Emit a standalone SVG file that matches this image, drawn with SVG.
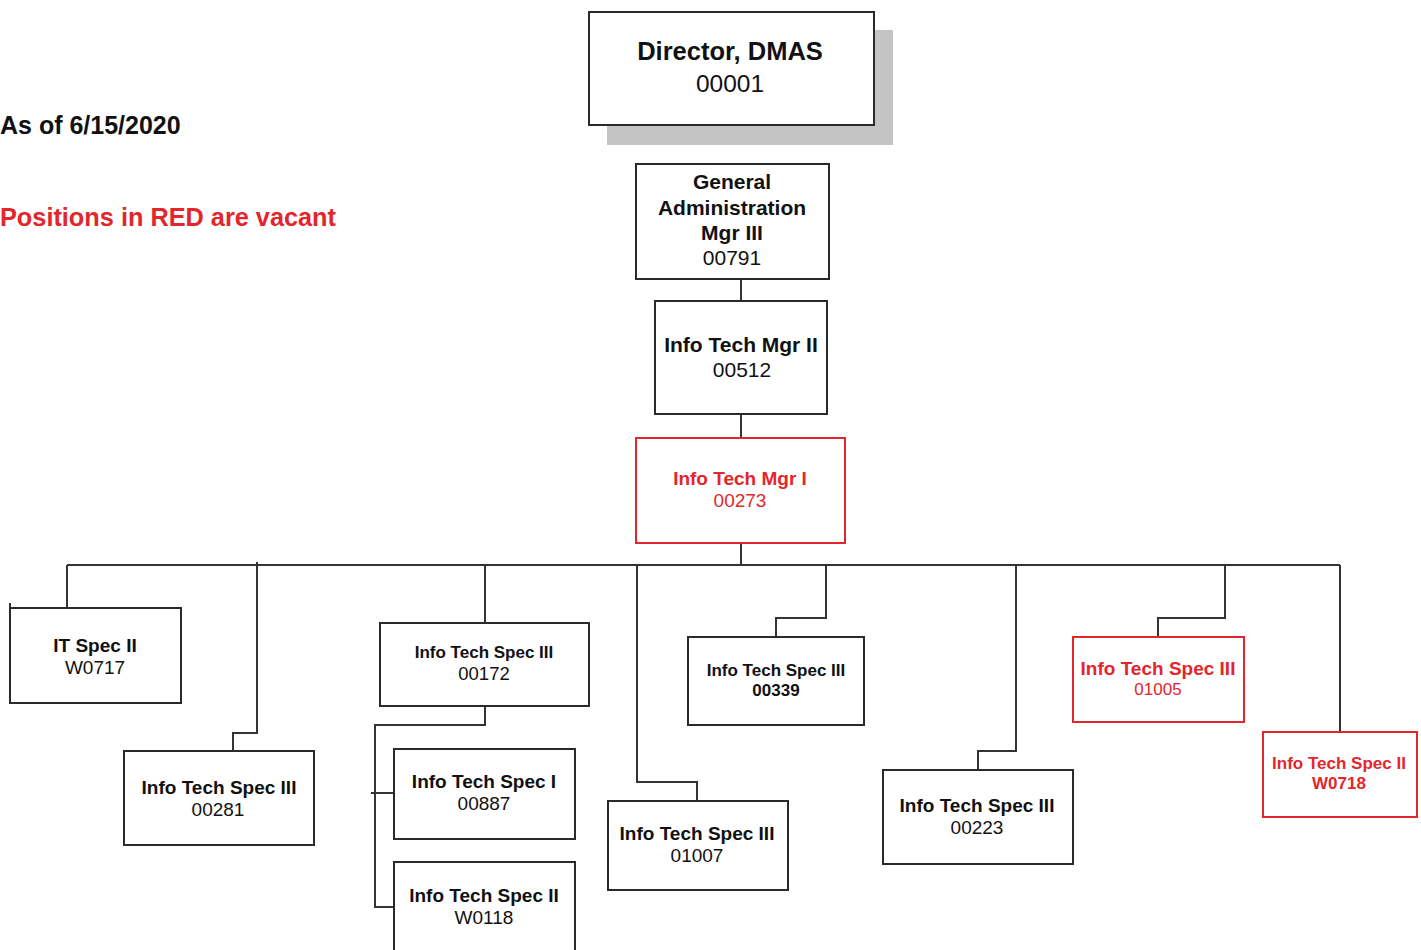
<svg xmlns="http://www.w3.org/2000/svg" width="1421" height="950" viewBox="0 0 1421 950">
  <style>
    .box { fill: #ffffff; stroke: #2a2a2a; stroke-width: 2; }
    .box.vacant { stroke: #e3262b; }
    .shadow { fill: #c4c4c4; }
    .link { fill: none; stroke: #333333; stroke-width: 2; }
    text { font-family: "Liberation Sans", Arial, sans-serif; text-anchor: middle; fill: #111111; }
    .b { font-weight: bold; }
    .red { fill: #e3262b; }
    .note { text-anchor: start; font-weight: bold; }
  </style>
  <rect width="1421" height="950" fill="#ffffff"/>

  <!-- notes -->
  <text class="note" x="0" y="134" font-size="25">As of 6/15/2020</text>
  <text class="note red" x="0" y="226" font-size="25.3">Positions in RED are vacant</text>

  <!-- reporting lines -->
  <g id="connectors">
    <path class="link" d="M741 279 V301"/>
    <path class="link" d="M741 414 V438"/>
    <path class="link" d="M741 543 V565"/>
    <path class="link" d="M67 565 H1340"/>
    <path class="link" d="M67 565 V608"/>
    <path class="link" d="M257 562 V733 H233 V751"/>
    <path class="link" d="M485 565 V623"/>
    <path class="link" d="M485 706 V725 H375 V907 H394"/>
    <path class="link" d="M371 793 H394"/>
    <path class="link" d="M637 565 V782 H697 V801"/>
    <path class="link" d="M826 565 V618 H776 V637"/>
    <path class="link" d="M1016 565 V751 H978 V770"/>
    <path class="link" d="M1225 565 V618 H1158 V637"/>
    <path class="link" d="M1340 565 V732"/>
  </g>

  <g id="director">
    <rect class="shadow" x="607" y="30" width="286" height="115"/>
    <rect class="box" x="589" y="12" width="285" height="113"/>
    <text class="b" x="730" y="60" font-size="25.5">Director, DMAS</text>
    <text x="730" y="92" font-size="24.5">00001</text>
  </g>

  <g id="gen-admin-mgr-iii">
    <rect class="box" x="636" y="164" width="193" height="115"/>
    <text class="b" x="732" y="189" font-size="21">General</text>
    <text class="b" x="732" y="215" font-size="21">Administration</text>
    <text class="b" x="732" y="240" font-size="21">Mgr III</text>
    <text x="732" y="265" font-size="21">00791</text>
  </g>

  <g id="it-mgr-ii">
    <rect class="box" x="655" y="301" width="172" height="113"/>
    <text class="b" x="741" y="352" font-size="21">Info Tech Mgr II</text>
    <text x="742" y="377" font-size="21">00512</text>
  </g>

  <g id="it-mgr-i">
    <rect class="box vacant" x="636" y="438" width="209" height="105"/>
    <text class="b red" x="740" y="485" font-size="19">Info Tech Mgr I</text>
    <text class="red" x="740" y="507" font-size="19">00273</text>
  </g>

  <g id="it-spec-ii-w0717">
    <path class="link" d="M10 603 V608"/>
    <rect class="box" x="10" y="608" width="171" height="95"/>
    <text class="b" x="95" y="652" font-size="19">IT Spec II</text>
    <text x="95" y="674" font-size="19">W0717</text>
  </g>

  <g id="its-iii-00281">
    <rect class="box" x="124" y="751" width="190" height="94"/>
    <text class="b" x="219" y="794" font-size="19">Info Tech Spec III</text>
    <text x="218" y="816" font-size="19">00281</text>
  </g>

  <g id="its-iii-00172">
    <rect class="box" x="380" y="623" width="209" height="83"/>
    <text class="b" x="484" y="658" font-size="17">Info Tech Spec III</text>
    <text x="484" y="680" font-size="18.5">00172</text>
  </g>

  <g id="its-i-00887">
    <rect class="box" x="394" y="749" width="181" height="90"/>
    <text class="b" x="484" y="788" font-size="19">Info Tech Spec I</text>
    <text x="484" y="810" font-size="19">00887</text>
  </g>

  <g id="its-ii-w0118">
    <rect class="box" x="394" y="862" width="181" height="100"/>
    <text class="b" x="484" y="902" font-size="19">Info Tech Spec II</text>
    <text x="484" y="924" font-size="19">W0118</text>
  </g>

  <g id="its-iii-01007">
    <rect class="box" x="608" y="801" width="180" height="89"/>
    <text class="b" x="697" y="840" font-size="19">Info Tech Spec III</text>
    <text x="697" y="862" font-size="19">01007</text>
  </g>

  <g id="its-iii-00339">
    <rect class="box" x="688" y="637" width="176" height="88"/>
    <text class="b" x="776" y="676" font-size="17">Info Tech Spec III</text>
    <text class="b" x="776" y="696" font-size="17">00339</text>
  </g>

  <g id="its-iii-00223">
    <rect class="box" x="883" y="770" width="190" height="94"/>
    <text class="b" x="977" y="812" font-size="19">Info Tech Spec III</text>
    <text x="977" y="834" font-size="19">00223</text>
  </g>

  <g id="its-iii-01005">
    <rect class="box vacant" x="1073" y="637" width="171" height="85"/>
    <text class="b red" x="1158" y="675" font-size="19">Info Tech Spec III</text>
    <text class="red" x="1158" y="695" font-size="17">01005</text>
  </g>

  <g id="its-ii-w0718">
    <rect class="box vacant" x="1263" y="732" width="154" height="85"/>
    <text class="b red" x="1339" y="769" font-size="17">Info Tech Spec II</text>
    <text class="b red" x="1339" y="789" font-size="17">W0718</text>
  </g>
</svg>
